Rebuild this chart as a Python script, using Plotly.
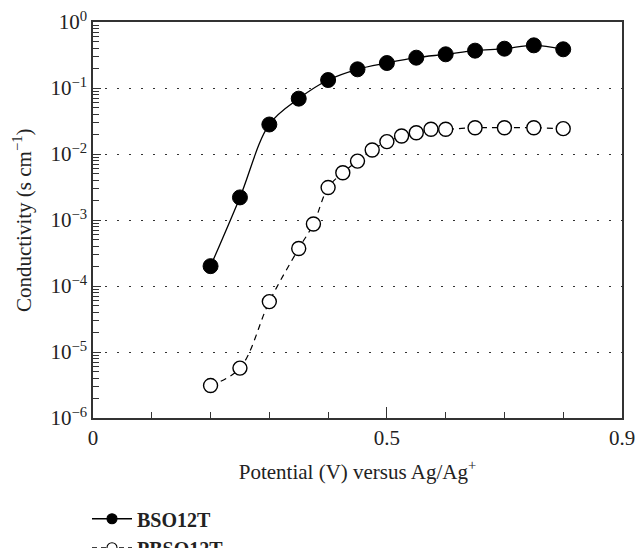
import plotly.graph_objects as go

# Potential (V vs Ag/Ag+) and conductivity (S/cm)
bso_potential = [0.20, 0.25, 0.30, 0.35, 0.40, 0.45, 0.50, 0.55, 0.60, 0.65, 0.70, 0.75, 0.80]
bso_conductivity = [2.0e-4, 2.2e-3, 2.8e-2, 6.9e-2, 0.132, 0.192, 0.239, 0.288, 0.324, 0.368, 0.394, 0.443, 0.386]

pbso_potential = [0.20, 0.25, 0.30, 0.35, 0.375, 0.40, 0.425, 0.45, 0.475, 0.50, 0.525, 0.55,
                  0.575, 0.60, 0.65, 0.70, 0.75, 0.80]
pbso_conductivity = [3.1e-6, 5.7e-6, 5.8e-5, 3.7e-4, 8.7e-4, 3.1e-3, 5.2e-3, 7.8e-3, 1.15e-2, 1.54e-2,
                     1.87e-2, 2.1e-2, 2.37e-2, 2.37e-2, 2.5e-2, 2.5e-2, 2.5e-2, 2.42e-2]

series_names = ["BSO12T", "PBSO12T"]

y_tick_vals = [1e-6, 1e-5, 1e-4, 1e-3, 1e-2, 1e-1, 1]
y_tick_text = ["10<sup>−6</sup>", "10<sup>−5</sup>", "10<sup>−4</sup>", "10<sup>−3</sup>",
               "10<sup>−2</sup>", "10<sup>−1</sup>", "10<sup>0</sup>"]
x_tick_vals = [0, 0.5, 0.9]
x_tick_text = ["0", "0.5", "0.9"]

FONT = "Liberation Serif, Times New Roman, serif"
AXIS_COLOR = "#333333"
TEXT_COLOR = "#222222"
FS = 21

styles = [
    dict(line=dict(color="black", width=1.3, shape="spline"),
         fill="black", edge_w=1.0, size=15),
    dict(line=dict(color="black", width=1.2, dash="6px,5px", shape="spline"),
         fill="white", edge_w=1.4, size=14),
]

fig = go.Figure()
for name, xs, ys, st in zip(series_names,
                            [bso_potential, pbso_potential],
                            [bso_conductivity, pbso_conductivity], styles):
    # data trace
    fig.add_trace(go.Scatter(
        x=xs, y=ys, name=name, legendgroup=name, showlegend=False,
        mode="lines+markers", line=st["line"],
        marker=dict(symbol="circle", size=st["size"], color=st["fill"],
                    line=dict(color="black", width=st["edge_w"])),
    ))
    # legend key with a smaller symbol
    key_line = dict(st["line"])
    key_line.pop("shape")
    if "dash" in key_line:
        key_line["dash"] = "5px,4px"
    fig.add_trace(go.Scatter(
        x=[None], y=[None], name=f"<b>{name}</b>", legendgroup=name, showlegend=True,
        mode="lines+markers", line=key_line,
        marker=dict(symbol="circle", size=10, color=st["fill"],
                    line=dict(color="black", width=1.1)),
    ))

fig.update_layout(
    width=635, height=548,
    margin=dict(l=93, r=13, t=22, b=130, autoexpand=False),
    paper_bgcolor="white", plot_bgcolor="white",
    font=dict(family=FONT, size=FS, color=TEXT_COLOR),
    showlegend=True,
    legend=dict(
        xref="container", yref="container",
        x=0.137, y=0.089, xanchor="left", yanchor="top",
        font=dict(family=FONT, size=20, color=TEXT_COLOR),
        bgcolor="rgba(0,0,0,0)", tracegroupgap=0, itemwidth=40,
    ),
    annotations=[dict(
        text="Conductivity (s cm<sup>−1</sup>)", textangle=-90,
        xref="paper", yref="paper", x=-0.134, y=0.5,
        xanchor="center", yanchor="middle", showarrow=False,
        font=dict(family=FONT, size=FS, color=TEXT_COLOR),
    )],
)

fig.update_xaxes(
    range=[0, 0.9], showline=True, linecolor=AXIS_COLOR, linewidth=1.5, mirror=True,
    automargin=False, ticklabeloverflow="allow",
    tickmode="array", tickvals=x_tick_vals, ticktext=x_tick_text,
    ticks="inside", ticklen=11, tickwidth=1.3, tickcolor=AXIS_COLOR,
    minor=dict(dtick=0.1, tick0=0, ticks="inside", ticklen=6, tickwidth=1.3, tickcolor=AXIS_COLOR,
               showgrid=False),
    showgrid=False, zeroline=False,
    tickfont=dict(family=FONT, size=FS, color=TEXT_COLOR),
    title=dict(text="Potential (V) versus Ag/Ag<sup>+</sup>",
               font=dict(family=FONT, size=FS, color=TEXT_COLOR)),
)
fig.update_yaxes(
    type="log", range=[-6, 0], showline=True, linecolor=AXIS_COLOR, linewidth=1.5, mirror=True,
    automargin=False, ticklabeloverflow="allow",
    tickmode="array", tickvals=y_tick_vals, ticktext=y_tick_text,
    ticks="inside", ticklen=8, tickwidth=1.2, tickcolor=AXIS_COLOR,
    minor=dict(dtick="D1", ticks="inside", ticklen=6, tickwidth=1, tickcolor=AXIS_COLOR,
               showgrid=False),
    showgrid=True, gridcolor="#333333", gridwidth=1.2, griddash="1.5px,10.5px",
    zeroline=False,
    tickfont=dict(family=FONT, size=FS, color=TEXT_COLOR),
)

fig.write_html("out.html")
